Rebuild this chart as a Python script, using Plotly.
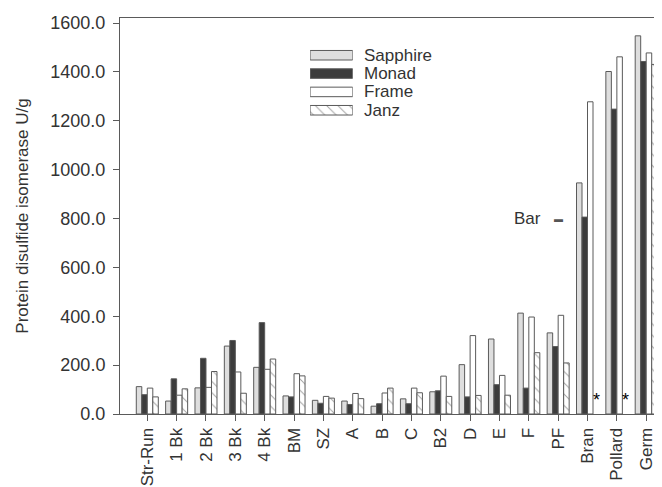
import plotly.graph_objects as go

categories = ["Str-Run", "1 Bk", "2 Bk", "3 Bk", "4 Bk", "BM", "SZ", "A", "B", "C",
              "B2", "D", "E", "F", "PF", "Bran", "Pollard", "Germ"]
sapphire = [112, 53, 107, 278, 191, 74, 56, 53, 32, 62, 91, 202, 307, 413, 332, 946, 1402, 1548]
monad = [79, 144, 228, 301, 374, 70, 44, 39, 42, 42, 95, 70, 120, 106, 276, 806, 1248, 1443]
frame = [106, 77, 109, 172, 183, 165, 72, 84, 86, 106, 155, 321, 158, 397, 404, 1278, 1462, 1478]
janz = [70, 103, 174, 85, 225, 156, 65, 63, 106, 87, 72, 76, 77, 251, 209, None, None, 1431]
series_names = ["Sapphire", "Monad", "Frame", "Janz"]
missing_marks = ["Bran", "Pollard"]
y_ticks = [0, 200, 400, 600, 800, 1000, 1200, 1400, 1600]

FONT = "Liberation Sans, Arial, sans-serif"
TXT = "#333333"
EDGE = "#5a5a5a"
fills = ["#dedede", "#3c3c3c", "#ffffff", "#ffffff"]
patterns = ["", "", "", "\\"]

fig = go.Figure()
for name, vals, fc, pat in zip(series_names, [sapphire, monad, frame, janz], fills, patterns):
    marker = dict(color=fc, line=dict(color=EDGE, width=1))
    if pat:
        marker["pattern"] = dict(shape=pat, fgcolor="#444444", bgcolor="#ffffff", size=8, solidity=0.12)
    fig.add_trace(go.Bar(x=categories, y=vals, name=name, marker=marker, showlegend=False,
                         xaxis="x", yaxis="y"))

# custom legend drawn as an inset bar chart
fig.add_trace(go.Bar(
    y=series_names, x=[1, 1, 1, 1], orientation="h", width=0.52,
    marker=dict(color=fills, line=dict(color=EDGE, width=1),
                pattern=dict(shape=patterns, fgcolor="#444444", bgcolor="#ffffff", size=8, solidity=0.12)),
    xaxis="x2", yaxis="y2", showlegend=False, hoverinfo="skip"))

annotations = []
for n in series_names:
    annotations.append(dict(text=n, xref="x2 domain", x=1, xshift=9, xanchor="left",
                            yref="y2", y=n, yanchor="middle", showarrow=False,
                            font=dict(family=FONT, size=17, color=TXT)))
for c in missing_marks:
    annotations.append(dict(text="*", xref="x", x=c, xshift=9, yref="y", y=58,
                            yanchor="middle", showarrow=False,
                            font=dict(family=FONT, size=18, color="#000000")))
annotations.append(dict(text="Bar", xref="paper", x=0.783, xanchor="right", yref="y", y=800,
                        yanchor="middle", showarrow=False, font=dict(family=FONT, size=17, color=TXT)))
annotations.append(dict(text="▬", xref="paper", x=0.812, xanchor="center", yref="y", y=800,
                        yanchor="middle", showarrow=False, font=dict(family=FONT, size=9, color="#555555")))

# page body has an 8px margin, so the figure is sized to land the plot area where the reference has it
fig.update_layout(
    width=654, height=479,
    margin=dict(l=112, r=2, t=10, b=73, autoexpand=False),
    paper_bgcolor="white", plot_bgcolor="white",
    barmode="group", bargap=0.25, bargroupgap=0,
    font=dict(family=FONT, size=18, color=TXT),
    xaxis=dict(domain=[0, 1], range=[-0.93, 17.47], showline=True, linecolor=EDGE, linewidth=1,
               mirror=True, ticks="outside", ticklen=6, tickcolor=EDGE, tickangle=-90,
               showgrid=False, zeroline=False, automargin=False, tickfont=dict(size=17, color=TXT)),
    yaxis=dict(domain=[0, 1], range=[0, 1621], showline=True, linecolor=EDGE, linewidth=1,
               ticks="outside", ticklen=6, tickcolor=EDGE, tickvals=y_ticks, tickformat=".1f",
               showgrid=False, zeroline=False, automargin=False, tickfont=dict(size=18, color=TXT),
               ticklabelstandoff=4,
               title=dict(text="Protein disulfide isomerase U/g", font=dict(size=17, color=TXT),
                          standoff=17)),
    xaxis2=dict(domain=[0.352, 0.431], range=[0, 1], anchor="y2", visible=False, fixedrange=True),
    yaxis2=dict(domain=[0.738, 0.935], anchor="x2", visible=False, autorange="reversed",
                categoryorder="array", categoryarray=series_names, fixedrange=True),
    annotations=annotations,
)

fig.write_html("out.html")
